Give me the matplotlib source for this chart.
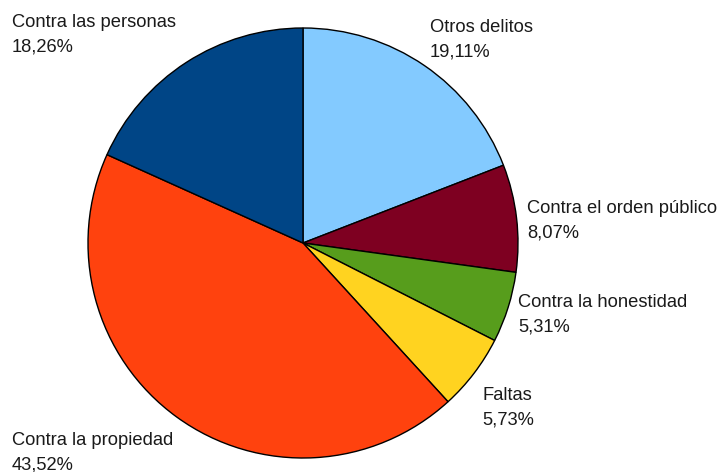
import matplotlib
matplotlib.use("Agg")
import matplotlib.pyplot as plt

categories = ["Otros delitos", "Contra el orden público", "Contra la honestidad",
              "Faltas", "Contra la propiedad", "Contra las personas"]
values = [19.11, 8.07, 5.31, 5.73, 43.52, 18.26]
colors = ["#83CAFF", "#7E0021", "#579D1C", "#FFD320", "#FF420E", "#004586"]

W, H = 720, 472
fig = plt.figure(figsize=(W / 100, H / 100), dpi=100)
ax = fig.add_axes([0, 0, 1, 1])

cx, cy, r = 303, H - 243, 215
ax.pie(values, colors=colors, startangle=90, counterclock=False,
       center=(cx, cy), radius=r, frame=True,
       wedgeprops=dict(edgecolor="black", linewidth=1.0))
ax.set_xlim(0, W)
ax.set_ylim(0, H)
ax.set_aspect("equal")
ax.axis("off")

# label anchor positions (left x, first-line baseline y in pixels from top)
label_pos = {
    "Otros delitos": (430, 32),
    "Contra el orden público": (527, 213),
    "Contra la honestidad": (518, 307),
    "Faltas": (482, 400),
    "Contra la propiedad": (12, 445),
    "Contra las personas": (12, 27),
}
line_step = 24.2
for cat, v in zip(categories, values):
    x, y = label_pos[cat]
    pct = f"{v:.2f}%".replace(".", ",")
    for i, line in enumerate([cat, pct]):
        ax.text(x, H - (y + i * line_step), line, ha="left", va="baseline",
                fontsize=13.2, family="Liberation Sans", color="#1a1a1a")

fig.savefig("out.png", dpi=100)
